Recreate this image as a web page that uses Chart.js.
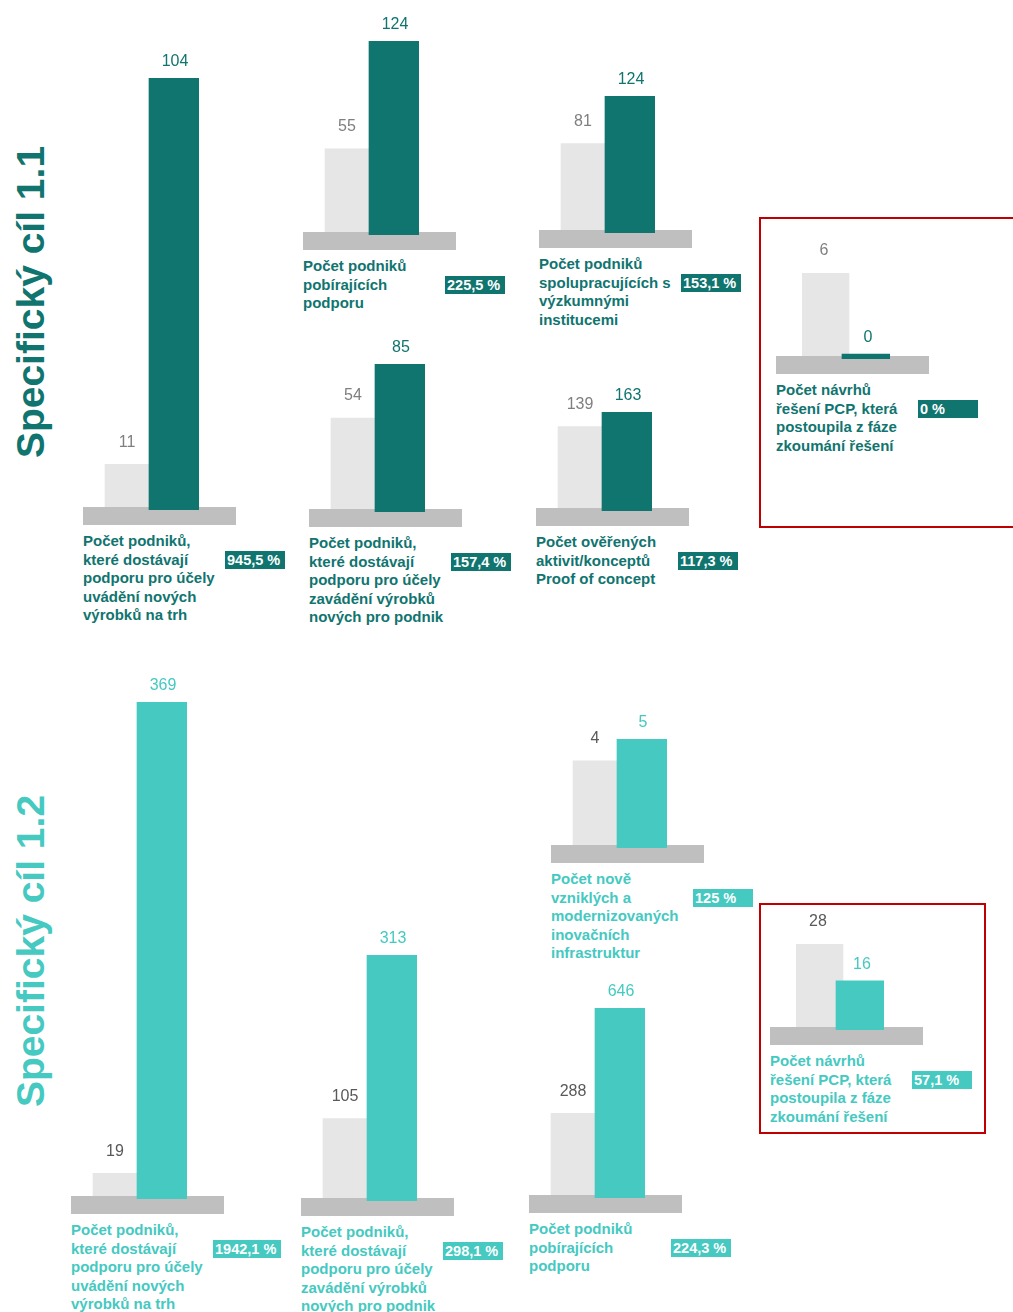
<!DOCTYPE html>
<html>
<head>
<meta charset="utf-8">
<script src="https://cdn.jsdelivr.net/npm/chart.js@4.4.1/dist/chart.umd.min.js"></script>
<style>
  body { margin: 0; width: 1013px; height: 1312px; position: relative; overflow: hidden; background: #fff; font-family: "Liberation Sans", Arial, sans-serif; }
  .title { position: absolute; font-weight: bold; font-size: 39px; white-space: nowrap; transform: translate(-50%, -50%) rotate(-90deg); }
  .panel { position: absolute; }
  .label { position: absolute; font-weight: bold; font-size: 15px; line-height: 18.5px; white-space: pre; }
  .badge { position: absolute; color: #fff; font-weight: bold; font-size: 14.5px; height: 18px; line-height: 18px; padding: 0 5px 0 2px; min-width: 53px; white-space: nowrap; }
  .box { position: absolute; border: 2px solid #c00000; box-sizing: border-box; }
</style>
</head>
<body>
<div class="box" style="left:759px;top:217px;width:270px;height:311px"></div>
<div class="box" style="left:759px;top:903px;width:227px;height:231px"></div>
<script>
const sectionTitles = ['Specifický cíl 1.1', 'Specifický cíl 1.2'];
const sectionColors = ['#10746f', '#45c9c1'];
const valueGreys = ['#7f7f7f', '#595959'];

const indicatorLabels = [
  'Počet podniků,\nkteré dostávají\npodporu pro účely\nuvádění nových\nvýrobků na trh',
  'Počet podniků\npobírajících\npodporu',
  'Počet podniků\nspolupracujících s\nvýzkumnými\ninstitucemi',
  'Počet podniků,\nkteré dostávají\npodporu pro účely\nzavádění výrobků\nnových pro podnik',
  'Počet ověřených\naktivit/konceptů\nProof of concept',
  'Počet návrhů\nřešení PCP, která\npostoupila z fáze\nzkoumání řešení',
  'Počet podniků,\nkteré dostávají\npodporu pro účely\nuvádění nových\nvýrobků na trh',
  'Počet podniků,\nkteré dostávají\npodporu pro účely\nzavádění výrobků\nnových pro podnik',
  'Počet nově\nvzniklých a\nmodernizovaných\ninovačních\ninfrastruktur',
  'Počet podniků\npobírajících\npodporu',
  'Počet návrhů\nřešení PCP, která\npostoupila z fáze\nzkoumání řešení'
];
const sectionOf = [0, 0, 0, 0, 0, 0, 1, 1, 1, 1, 1];
const targetValues = [11, 55, 81, 54, 139, 6, 19, 105, 4, 288, 28];
const actualValues = [104, 124, 124, 85, 163, 0, 369, 313, 5, 646, 16];
const fulfilment = ['945,5 %', '225,5 %', '153,1 %', '157,4 %', '117,3 %', '0 %', '1942,1 %', '298,1 %', '125 %', '224,3 %', '57,1 %'];

// platform left / top and pixel height of the tallest bar for each panel
const panelLayout = [
  { x: 83, y: 507, h: 432 },
  { x: 303, y: 232, h: 194 },
  { x: 539, y: 230, h: 137 },
  { x: 309, y: 509, h: 148 },
  { x: 536, y: 508, h: 99 },
  { x: 776, y: 356, h: 86, wide: true },
  { x: 71, y: 1196, h: 497 },
  { x: 301, y: 1198, h: 246 },
  { x: 551, y: 845, h: 109 },
  { x: 529, y: 1195, h: 190 },
  { x: 770, y: 1027, h: 86, wide: true }
];
const titleCenters = [{ x: 31, y: 302 }, { x: 31, y: 951 }];

sectionTitles.forEach(function(t, i) {
  const d = document.createElement('div');
  d.className = 'title';
  d.textContent = t;
  d.style.color = sectionColors[i];
  d.style.left = titleCenters[i].x + 'px';
  d.style.top = titleCenters[i].y + 'px';
  document.body.appendChild(d);
});

const platformPlugin = {
  id: 'platform',
  beforeDatasetDraw(chart, args) {
    if (args.index !== 1) return;
    const ctx = chart.ctx;
    ctx.save();
    ctx.fillStyle = '#bfbfbf';
    ctx.fillRect(0, chart.chartArea.bottom - 3, chart.width, 18);
    ctx.restore();
  }
};

const valuePlugin = {
  id: 'values',
  afterDatasetsDraw(chart) {
    const ctx = chart.ctx;
    ctx.save();
    ctx.font = '16px "Liberation Sans", Arial, sans-serif';
    ctx.textAlign = 'center';
    ctx.textBaseline = 'middle';
    chart.data.datasets.forEach(function(ds, di) {
      const meta = chart.getDatasetMeta(di);
      ds.data.forEach(function(v, i) {
        if (v === null) return;
        const bar = meta.data[i];
        ctx.fillStyle = ds.labelColor;
        ctx.fillText(String(v), bar.x, bar.y - (di === 0 ? 22 : 16));
      });
    });
    ctx.restore();
  }
};

panelLayout.forEach(function(p, i) {
  const s = sectionOf[i];
  const topPad = 34, bottomPad = 15;
  const padL = p.wide ? 26 : 20;
  const padR = p.wide ? 39 : 37;

  const canvas = document.createElement('canvas');
  canvas.width = 153;
  canvas.height = topPad + p.h + bottomPad;
  canvas.className = 'panel';
  canvas.style.left = p.x + 'px';
  canvas.style.top = (p.y + 3 - p.h - topPad) + 'px';
  document.body.appendChild(canvas);

  new Chart(canvas.getContext('2d'), {
    type: 'bar',
    data: {
      labels: ['cíl', 'skutečnost'],
      datasets: [
        {
          data: [targetValues[i], null],
          backgroundColor: '#e6e6e6',
          barThickness: p.wide ? 50 : 44,
          grouped: false,
          order: 1,
          labelColor: valueGreys[s]
        },
        {
          data: [null, actualValues[i]],
          backgroundColor: sectionColors[s],
          barThickness: 52,
          grouped: false,
          minBarLength: 5,
          order: 0,
          labelColor: sectionColors[s]
        }
      ]
    },
    options: {
      responsive: false,
      animation: false,
      layout: { padding: { top: topPad, bottom: bottomPad, left: padL, right: padR } },
      scales: {
        x: { display: false },
        y: { display: false, min: 0, max: Math.max(targetValues[i], actualValues[i]) }
      },
      plugins: { legend: { display: false }, tooltip: { enabled: false } }
    },
    plugins: [platformPlugin, valuePlugin]
  });

  const label = document.createElement('div');
  label.className = 'label';
  label.textContent = indicatorLabels[i];
  label.style.color = sectionColors[s];
  label.style.left = p.x + 'px';
  label.style.top = (p.y + 25) + 'px';
  document.body.appendChild(label);

  const badge = document.createElement('div');
  badge.className = 'badge';
  badge.textContent = fulfilment[i];
  badge.style.background = sectionColors[s];
  badge.style.left = (p.x + 142) + 'px';
  badge.style.top = (p.y + 43.5) + 'px';
  document.body.appendChild(badge);
});
</script>
</body>
</html>
